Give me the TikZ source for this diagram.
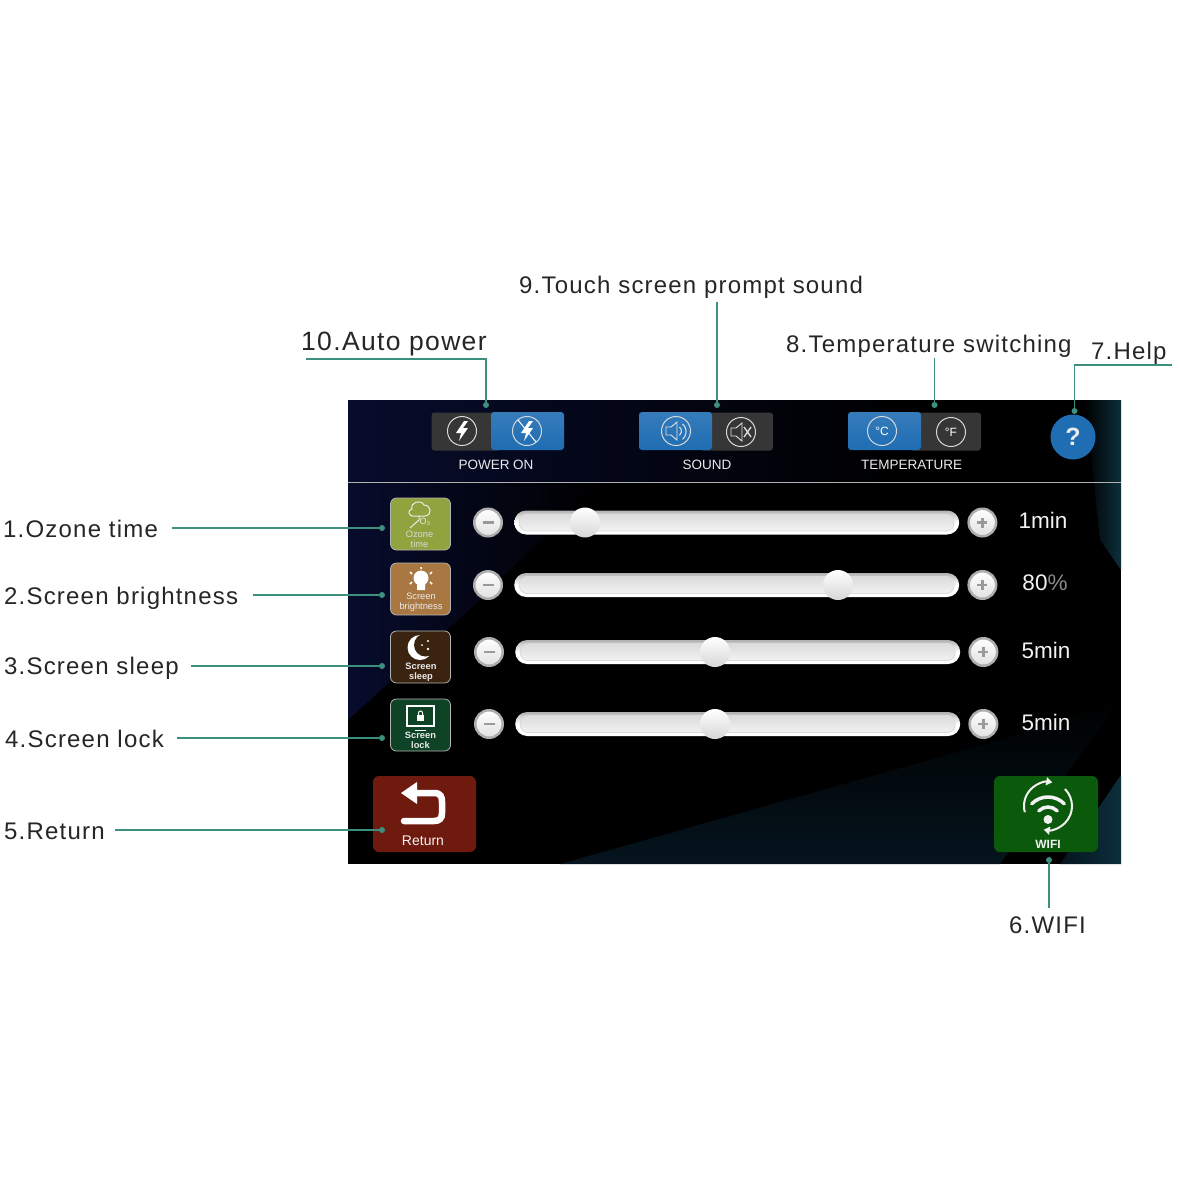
\documentclass[tikz,border=0pt]{standalone}
\usepackage{fontspec}
\usetikzlibrary{positioning,arrows.meta}
\setmainfont{Liberation Sans}
\newfontfamily\leadfont[LetterSpace=5]{Liberation Sans}
\definecolor{leadcol}{HTML}{3D8F7E}
\definecolor{btnblue}{HTML}{1F6DB3}
\definecolor{btndark}{HTML}{363636}
\definecolor{navyback}{HTML}{070C2C}
\definecolor{tealback}{HTML}{0C2F3C}
\definecolor{deepback}{HTML}{05141E}
\definecolor{iconolive}{HTML}{8FA33F}
\definecolor{iconbrown}{HTML}{A97842}
\definecolor{iconsleep}{HTML}{3A2410}
\definecolor{iconlock}{HTML}{0F4325}
\definecolor{returnred}{HTML}{6E1A0E}
\definecolor{wifigreen}{HTML}{0B5A0B}
\tikzset{
  lbl/.style={inner sep=0pt,anchor=base west,text=black!85,font=\leadfont\fontsize{24}{24}\selectfont},
  lead/.style={draw=leadcol,line width=1.2pt},
  leaddot/.style={circle,fill=leadcol,inner sep=0pt,minimum size=6pt},
  seg/.style={rounded corners=3pt,minimum width=73pt,minimum height=38pt,inner sep=0pt},
  ring/.style={circle,draw=white!85!black,line width=1pt,minimum size=29pt,inner sep=0pt},
  capt/.style={text=white!92!black,inner sep=0pt,font=\fontsize{13.5}{14}\selectfont},
  iconbox/.style={rounded corners=6pt,draw=white!70!black,line width=.8pt,minimum width=60pt,minimum height=52pt,inner sep=0pt},
  icontext/.style={text=white!92!black,inner sep=0pt,align=center,font=\fontsize{9.3}{10}\selectfont},
  roundbtn/.style={circle,draw=black!32,line width=2.5pt,minimum size=27.5pt,inner sep=0pt,top color=white,bottom color=black!12},
  track/.style={rounded corners=12pt,minimum height=24pt,inner sep=0pt,top color=black!30,bottom color=white,middle color=white},
  knob/.style={circle,minimum size=30pt,inner sep=0pt,top color=white,bottom color=black!16},
  valtext/.style={text=white!95!black,inner sep=0pt,font=\fontsize{22.5}{23}\selectfont},
}
\begin{document}
\begin{tikzpicture}[x=1pt,y=-1pt]
  \useasboundingbox (0,0) rectangle (1179,1179);
  \fill[white] (0,0) rectangle (1179,1179);

  % screen
  \node[minimum width=773pt,minimum height=464pt,inner sep=0pt,fill=black] (screen) at (734.5,632) {};
  \begin{scope}
    \clip (348,400) rectangle (1121,864);
    \shade[left color=navyback,right color=black] (348,400) rectangle (900,482);
    \shade[left color=navyback,right color=black] (348,482) -- (600,482) -- (480,600) -- (348,720) -- cycle;
    \shade[left color=black,right color=tealback] (1085,400) -- (1121,400) -- (1121,570) -- (1100,540) -- cycle;
    \shade[top color=black,bottom color=deepback] (560,864) -- (1000,864) -- (1121,700) -- (1000,740) -- cycle;
    \shade[left color=deepback,right color=tealback] (1060,864) -- (1121,775) -- (1121,864) -- cycle;
  \end{scope}
  \coordinate (ruleL) at (348,482);
  \coordinate (ruleR) at (1121,482);
  \draw[white!70!black,line width=.8pt] (ruleL) -- (ruleR);

  % top switches
  \node[seg,minimum width=69pt,fill=btndark] (powerOn) at (466,431.5) {};
  \node[seg,top color=btnblue!90!white,bottom color=btnblue] (powerOff) at (527.5,431) {};
  \node[seg,minimum width=73pt,fill=btndark] (soundOff) at (736.5,431.5) {};
  \node[seg,top color=btnblue!90!white,bottom color=btnblue] (soundOn) at (675.5,431) {};
  \node[seg,minimum width=71pt,fill=btndark] (tempF) at (945.5,431.5) {};
  \node[seg,top color=btnblue!90!white,bottom color=btnblue] (tempC) at (884.5,431) {};

  \node[ring] (ringPower) at (462,431) {};
  \node[ring] (ringNoPower) at (527,431) {};
  \node[ring] (ringSound) at (676,431) {};
  \node[ring] (ringMute) at (741,432) {};
  \node[ring] (ringC) at (882,431) {};
  \node[ring] (ringF) at (951,432) {};
  \foreach \c in {ringPower,ringNoPower}
    \fill[white,shift={(\c)}] (2,-10) -- (-6,2) -- (-1,2) -- (-3,10) -- (6,-3) -- (1,-3) -- (6,-10) -- cycle;
  \draw[white,line width=1pt,shift={(ringNoPower)}] (-9,-11) -- (9,11);
  \foreach \c in {ringSound,ringMute}
    \draw[white!90!black,line width=.9pt,shift={(\c)}] (-10,-4) -- (-5,-4) -- (1,-9) -- (1,9) -- (-5,4) -- (-10,4) -- cycle;
  \draw[white!90!black,line width=1pt,shift={(ringSound)}]
    (3.5,-4) arc (-50:50:5.5) (6.5,-7) arc (-50:50:10);
  \draw[white!90!black,line width=1.3pt,shift={(ringMute)}] (3,-5) -- (10,5) (10,-5) -- (3,5);
  \node[text=white,inner sep=0pt,font=\fontsize{12}{12}\selectfont] at (ringC) {°C};
  \node[text=white,inner sep=0pt,font=\fontsize{12}{12}\selectfont] at (ringF) {°F};

  \node[capt] (captPower) at (496,465) {POWER ON};
  \node[capt] (captSound) at (707,465) {SOUND};
  \node[capt] (captTemp) at (911.5,465) {TEMPERATURE};
  \node[circle,fill=btnblue,minimum size=45pt,inner sep=0pt,text=white!92!black,font=\bfseries\fontsize{25}{25}\selectfont] (help) at (1073,437) {?};

  % slider rows
  \foreach \rowname/\y/\xa/\xb/\xk/\xv/\val in {
      Ozone/522.5/488/514/585/1043/1min,
      Bright/585/488/514/838/1045/80{\color{black!45}\%},
      Sleep/652/489/515/715/1046/5min,
      Lock/724/489/515/715/1046/5min}{
    \node[roundbtn] (minus\rowname) at (\xa,\y) {};
    \node[track,minimum width=445pt,anchor=west] (track\rowname) at (\xb,\y) {};
    \node[rounded corners=8pt,minimum height=17pt,minimum width=435pt,inner sep=0pt,draw=black!14,line width=.8pt,top color=black!14,bottom color=black!5] (inner\rowname) at (track\rowname) {};
    \node[knob] (knob\rowname) at (\xk,\y) {};
    \node[roundbtn,right=8pt of track\rowname] (plus\rowname) {};
    \draw[black!40,line width=2.5pt] ([xshift=-5.5pt]minus\rowname.center) -- ([xshift=5.5pt]minus\rowname.center);
    \draw[black!40,line width=2.5pt] ([xshift=-5pt]plus\rowname.center) -- ([xshift=5pt]plus\rowname.center)
      ([yshift=-5pt]plus\rowname.center) -- ([yshift=5pt]plus\rowname.center);
    \node[valtext] (val\rowname) at (\xv,\y-2) {\val};
  }

  % left icons
  \node[iconbox,fill=iconolive] (iconOzone) at (420.5,524) {};
  \node[iconbox,fill=iconbrown] (iconBright) at (420.5,589) {};
  \node[iconbox,fill=iconsleep] (iconSleep) at (420.5,657) {};
  \node[iconbox,fill=iconlock] (iconLock) at (420.5,725) {};

  \node[icontext,text=white!85!black] at (419.5,539.5) {Ozone\\time};
  \draw[white!92!black,line width=1pt] (415,516) .. controls (408,517) and (407,510) .. (412,509) .. controls (410,502) and (421,499) .. (424,505) .. controls (431,505) and (433,515) .. (425,516) -- (415,516) (419,516) -- (419,520) -- (410,528);
  \node[text=white!92!black,inner sep=0pt,font=\fontsize{9}{9}\selectfont] at (425,522) {O₃};

  \node[icontext] at (421,602.5) {Screen\\brightness};
  \fill[white] (421,578) circle (7.5pt) (417,582) rectangle (425,590);
  \draw[white,line width=1.5pt] (421,567) -- (421,569) (410,572) -- (412,574) (432,572) -- (430,574) (410,584) -- (412,582) (432,584) -- (430,582);

  \node[icontext,font=\bfseries\fontsize{9.3}{10.5}\selectfont] at (421,672) {Screen\\sleep};
  \fill[white] (420,647.5) circle (12.5pt);
  \fill[iconsleep] (425.5,645) circle (11.5pt);
  \fill[white] (428,641) circle (1.2pt) (422,645) circle (1pt) (428,649) circle (1.4pt);

  \node[icontext,font=\bfseries\fontsize{9.3}{10}\selectfont] at (420.5,740) {Screen\\lock};
  \draw[white,line width=1.4pt] (407,706) rectangle (434,726);
  \draw[white,line width=1.4pt] (415,730.5) -- (426,730.5);
  \fill[white] (417,715) rectangle (424,721);
  \draw[white,line width=1pt] (418.5,715) -- (418.5,713) arc (-180:0:2) -- (422.5,715);

  % bottom buttons
  \node[rounded corners=6pt,minimum width=103pt,minimum height=76pt,inner sep=0pt,fill=returnred] (returnBtn) at (424.5,814) {};
  \draw[white,line width=6.5pt,line cap=round] (414,793) -- (434,793) .. controls (441,793) and (442,797) .. (442,802) -- (442,813) .. controls (442,818) and (440,821) .. (434,821) -- (404,821);
  \fill[white] (401,793) -- (417,782) -- (417,804) -- cycle;
  \node[text=white!95!black,inner sep=0pt,font=\fontsize{14}{14}\selectfont] (returnText) at (423,841) {Return};

  \node[rounded corners=6pt,minimum width=104pt,minimum height=76pt,inner sep=0pt,fill=wifigreen] (wifiBtn) at (1046,814) {};
  \fill[white!95!black] (1048,819.5) circle (4.5pt);
  \draw[white!95!black,line width=3.5pt,line cap=round] (1048,820) ++(-135:13) arc (-135:-45:13);
  \draw[white!95!black,line width=3.5pt,line cap=round] (1048,820) ++(-135:23) arc (-135:-45:23);
  \draw[white!95!black,line width=2pt,-{Triangle[width=8pt,length=6pt]}] (1048,806) ++(-195:24) arc (-195:-80:24);
  \draw[white!95!black,line width=2pt,-{Triangle[width=8pt,length=6pt]}] (1048,806) ++(-45:24) arc (-45:100:24);
  \node[text=white!95!black,inner sep=0pt,font=\bfseries\fontsize{12}{12}\selectfont] (wifiText) at (1048,844) {WIFI};

  % leaders on the left
  \foreach \i/\y/\base/\x/\txt/\sx in {
      Ozone/528/537/3/1.Ozone time/172,
      Bright/595/604/4/2.Screen brightness/253,
      Sleep/666/674/4/3.Screen sleep/191,
      Lock/738/747/5/4.Screen lock/177,
      Return/830/839/4/5.Return/115}{
    \node[lbl] (lbl\i) at (\x,\base) {\txt};
    \node[leaddot] (dot\i) at (382,\y) {};
    \coordinate (start\i) at (\sx,\y);
    \draw[lead] (start\i) -- (dot\i);
  }

  % leaders on top
  \node[lbl,font=\leadfont\fontsize{26.5}{26}\selectfont] (lblAuto) at (301,350) {10.Auto power};
  \node[leaddot] (dotAuto) at (486,405) {};
  \coordinate (startAuto) at (306,359);
  \draw[lead] (startAuto) -| (dotAuto);

  \node[lbl] (lblTouch) at (519,293) {9.Touch screen prompt sound};
  \node[leaddot] (dotTouch) at (717,405) {};
  \coordinate (startTouch) at (717,302);
  \draw[lead] (startTouch) -- (dotTouch);

  \node[lbl] (lblTemp) at (786,352) {8.Temperature switching};
  \node[leaddot] (dotTemp) at (934.5,405) {};
  \coordinate (startTemp) at (934.5,358);
  \draw[lead] (startTemp) -- (dotTemp);

  \node[lbl] (lblHelp) at (1091,359) {7.Help};
  \node[leaddot] (dotHelp) at (1074.5,411) {};
  \coordinate (startHelp) at (1172,365);
  \draw[lead] (startHelp) -| (dotHelp);

  \node[lbl] (lblWifi) at (1009,933) {6.WIFI};
  \node[leaddot] (dotWifi) at (1049,860) {};
  \coordinate (startWifi) at (1049,908);
  \draw[lead] (startWifi) -- (dotWifi);
\end{tikzpicture}
\end{document}
